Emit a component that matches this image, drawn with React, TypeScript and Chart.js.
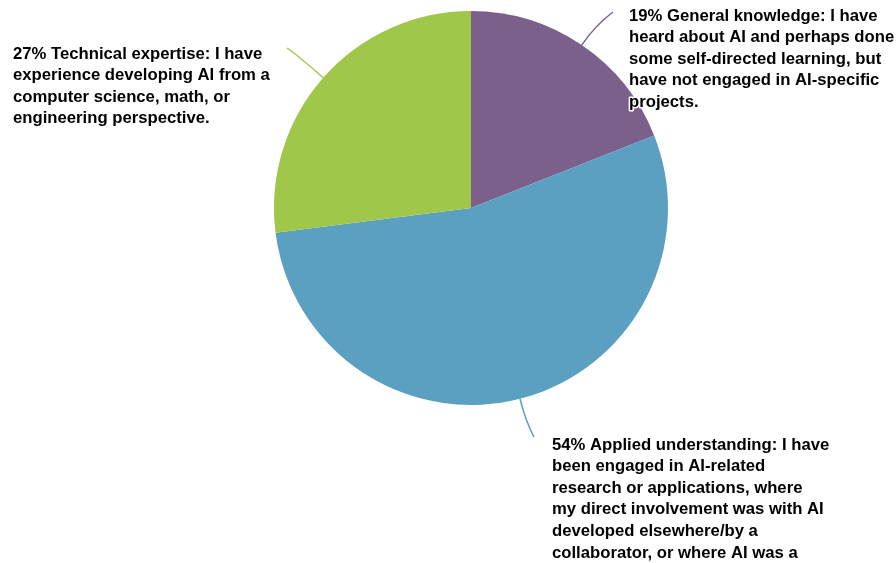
import React, { useEffect, useRef } from "react";
import { Chart, registerables } from "chart.js";

Chart.register(...registerables);

const categories = ["General knowledge", "Applied understanding", "Technical expertise"];
const values = [19, 54, 27];
const colors = ["#7a608a", "#5ba0c0", "#a0c64a"];

const labelGeneral = [
  "19% General knowledge: I have",
  "heard about AI and perhaps done",
  "some self-directed learning, but",
  "have not engaged in AI-specific",
  "projects.",
];
const labelApplied = [
  "54% Applied understanding: I have",
  "been engaged in AI-related",
  "research or applications, where",
  "my direct involvement was with AI",
  "developed elsewhere/by a",
  "collaborator, or where AI was a",
];
const labelTechnical = [
  "27% Technical expertise: I have",
  "experience developing AI from a",
  "computer science, math, or",
  "engineering perspective.",
];
const labelLines = [labelGeneral, labelApplied, labelTechnical];

// layout: leader end point and text block origin (left x, first baseline y)
const LAYOUT = [
  { end: [613, 12], text: [629, 20.5], bend: 24 },
  { end: [534, 437], text: [552, 449.5], bend: 24 },
  { end: [287, 48], text: [13, 58.5], bend: 32 },
];
const LINE_H = 21.6;
const FONT = "bold 16.7px 'Liberation Sans', Arial, Helvetica, sans-serif";

const labelPlugin = {
  id: "pieLabels",
  afterDraw(chart: any) {
    const ctx = chart.ctx;
    const meta = chart.getDatasetMeta(0);
    meta.data.forEach((arc: any, i: number) => {
      const p = arc.getProps(["x", "y", "startAngle", "endAngle", "outerRadius"], true);
      const mid = (p.startAngle + p.endAngle) / 2;
      const ex = p.x + Math.cos(mid) * p.outerRadius;
      const ey = p.y + Math.sin(mid) * p.outerRadius;
      const L = LAYOUT[i];
      const cx = ex + Math.cos(mid) * L.bend;
      const cy = ey + Math.sin(mid) * L.bend;
      ctx.save();
      ctx.strokeStyle = colors[i];
      ctx.lineWidth = 1.5;
      ctx.beginPath();
      ctx.moveTo(ex, ey);
      ctx.quadraticCurveTo(cx, cy, L.end[0], L.end[1]);
      ctx.stroke();
      ctx.font = FONT;
      ctx.textAlign = "left";
      ctx.textBaseline = "alphabetic";
      ctx.lineJoin = "round";
      labelLines[i].forEach((line, j) => {
        const y = L.text[1] + j * LINE_H;
        ctx.strokeStyle = "#ffffff";
        ctx.lineWidth = 3;
        ctx.strokeText(line, L.text[0], y);
        ctx.fillStyle = "#000000";
        ctx.fillText(line, L.text[0], y);
      });
      ctx.restore();
    });
  },
};

export default function App() {
  const ref = useRef<HTMLCanvasElement>(null);
  useEffect(() => {
    const chart = new Chart(ref.current!, {
      type: "pie",
      data: {
        labels: categories,
        datasets: [
          {
            data: values,
            backgroundColor: colors,
            borderWidth: 0,
          },
        ],
      },
      options: {
        responsive: false,
        animation: false,
        devicePixelRatio: 1,
        layout: { padding: { left: 274, right: 228, top: 11, bottom: 158 } },
        plugins: {
          legend: { display: false },
          tooltip: { enabled: false },
        },
      },
      plugins: [labelPlugin],
    });
    return () => chart.destroy();
  }, []);
  return (
    <div style={{ position: "absolute", left: 0, top: 0, width: 896, height: 563, background: "#fff" }}>
      <canvas ref={ref} width={896} height={563} style={{ display: "block" }} />
    </div>
  );
}
